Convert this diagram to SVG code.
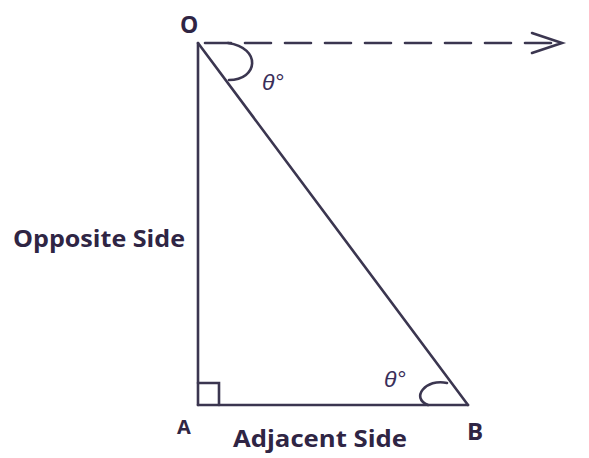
<svg xmlns="http://www.w3.org/2000/svg" width="589" height="458" viewBox="0 0 589 458">
<style>
.ln{stroke:#3b3650;stroke-width:2.6;fill:none;stroke-linecap:round}
.lbl{font-family:"Open Sans","Liberation Sans",sans-serif;font-weight:bold;fill:#2f2544}
.th{font-family:"Liberation Sans",sans-serif;font-style:italic;fill:#3a2e5a}
</style>
<rect width="589" height="458" fill="#ffffff"/>
<g id="connectors">
<line id="OA" class="ln" x1="198" y1="43" x2="198" y2="405"/>
<line id="AB" class="ln" x1="198" y1="405" x2="468" y2="405"/>
<line id="OB" class="ln" x1="198" y1="43" x2="468" y2="405"/>
<line id="ref" class="ln" x1="205" y1="43" x2="555" y2="43" stroke-dasharray="26 14" stroke-linecap="butt" stroke-width="3"/>
<path id="arrowhead" class="ln" d="M 532 33 L 562 43 L 532 53"/>
</g>
<g id="angleO">
<path class="ln" d="M 228 43 C 262 48 258 80 229 80" stroke-width="2"/>
<text class="th" x="262" y="90" font-size="23">θ°</text>
</g>
<g id="angleB">
<path class="ln" d="M 447 383 C 426 378 410 398 428 405" stroke-width="2"/>
<text class="th" x="384" y="387" font-size="23">θ°</text>
</g>
<g id="rightAngle">
<polyline class="ln" points="198,383 219,383 219,405" stroke-width="2"/>
</g>
<g id="O"><text class="lbl" x="180" y="33" font-size="23">O</text></g>
<g id="A"><text class="lbl" x="177" y="434" font-size="20">A</text></g>
<g id="B"><text class="lbl" x="467" y="440" font-size="24">B</text></g>
<g id="opposite"><text class="lbl" x="13" y="247" font-size="23" textLength="172" lengthAdjust="spacingAndGlyphs">Opposite Side</text></g>
<g id="adjacent"><text class="lbl" x="233" y="447" font-size="23" textLength="174" lengthAdjust="spacingAndGlyphs">Adjacent Side</text></g>
</svg>
